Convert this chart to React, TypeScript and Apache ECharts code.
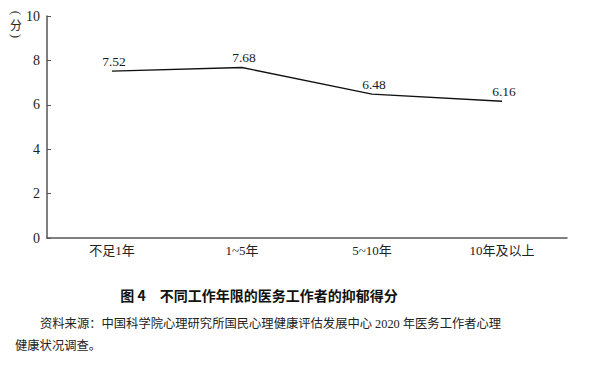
import React, { useEffect, useRef } from "react";
import * as echarts from "echarts";

const categories = ["不足1年", "1~5年", "5~10年", "10年及以上"];
const scores = [7.52, 7.68, 6.48, 6.16];
const yTicks = { min: 0, max: 10, interval: 2 };
const titleText = "图 4　不同工作年限的医务工作者的抑郁得分";
const sourceLine1 = "资料来源：中国科学院心理研究所国民心理健康评估发展中心 2020 年医务工作者心理";
const sourceLine2 = "健康状况调查。";
const unitParts = ["(", "分", ")"];

const serif = "'Liberation Serif', 'Noto Sans CJK SC', serif";
const cjk = "'Noto Sans CJK SC', serif";

export default function App() {
  const ref = useRef<HTMLDivElement>(null);
  useEffect(() => {
    if (!ref.current) return;
    const chart = echarts.init(ref.current, null, { renderer: "svg" });
    chart.setOption({
      animation: false,
      backgroundColor: "#ffffff",
      grid: { left: 47, top: 16, width: 520, height: 222, containLabel: false },
      xAxis: {
        type: "category",
        data: categories,
        boundaryGap: true,
        axisLine: { lineStyle: { color: "#555", width: 1.5 } },
        axisTick: { inside: true, alignWithLabel: true, length: 4, lineStyle: { color: "#555" } },
        axisLabel: { color: "#222", fontSize: 13, fontFamily: serif, margin: 6 },
        splitLine: { show: false },
      },
      yAxis: {
        type: "value",
        min: yTicks.min,
        max: yTicks.max,
        interval: yTicks.interval,
        axisLine: { show: true, lineStyle: { color: "#555", width: 1.5 } },
        axisTick: { show: true, inside: true, length: 4, lineStyle: { color: "#555" } },
        axisLabel: { color: "#222", fontSize: 14, fontFamily: serif, margin: 7 },
        splitLine: { show: false },
      },
      series: [
        {
          type: "line",
          data: scores,
          symbol: "circle",
          symbolSize: 0.1,
          showSymbol: true,
          itemStyle: { color: "#111" },
          lineStyle: { color: "#111", width: 1.3 },
          label: {
            show: true,
            position: "top",
            distance: 3,
            offset: [2, 0],
            color: "#1a1a1a",
            fontSize: 13.5,
            fontFamily: "'Liberation Serif', serif",
            formatter: (p: any) => Number(p.value).toFixed(2),
          },
        },
      ],
      graphic: [
        {
          type: "text",
          x: 16,
          y: 13,
          rotation: -Math.PI / 2,
          style: { text: unitParts[0], fontSize: 13, fill: "#333", fontFamily: serif, align: "center", verticalAlign: "middle" },
        },
        {
          type: "text",
          x: 16,
          y: 24,
          style: { text: unitParts[1], fontSize: 12, fill: "#222", fontFamily: cjk, align: "center", verticalAlign: "middle" },
        },
        {
          type: "text",
          x: 16,
          y: 36,
          rotation: -Math.PI / 2,
          style: { text: unitParts[2], fontSize: 13, fill: "#333", fontFamily: serif, align: "center", verticalAlign: "middle" },
        },
        {
          type: "text",
          x: 259,
          y: 295,
          style: {
            text: titleText,
            fontSize: 14,
            fontWeight: "bold",
            fill: "#111",
            fontFamily: cjk,
            align: "center",
            verticalAlign: "middle",
          },
        },
        {
          type: "text",
          x: 40,
          y: 324,
          style: { text: sourceLine1, fontSize: 12.3, fill: "#222", fontFamily: serif, verticalAlign: "middle" },
        },
        {
          type: "text",
          x: 15,
          y: 346,
          style: { text: sourceLine2, fontSize: 12.3, fill: "#222", fontFamily: serif, verticalAlign: "middle" },
        },
      ],
    });
    return () => chart.dispose();
  }, []);
  return <div ref={ref} style={{ width: 591, height: 365, position: "absolute", left: 0, top: 0 }} />;
}
